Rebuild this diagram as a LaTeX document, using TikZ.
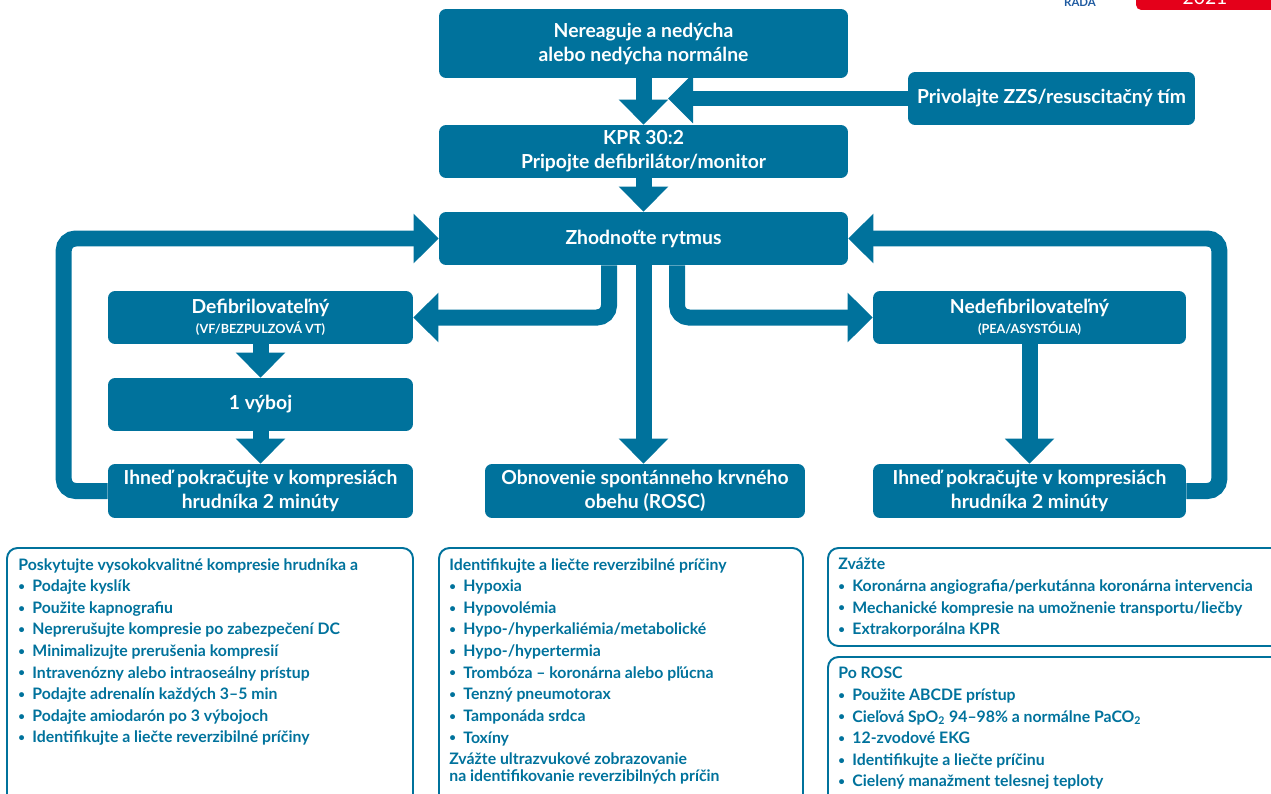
\documentclass[tikz,border=0pt]{standalone}
\usepackage{fontspec}
\setmainfont{Lato}
\usetikzlibrary{arrows.meta,calc}
\definecolor{ercblue}{RGB}{0,114,156}
\definecolor{ercred}{RGB}{228,0,26}
\definecolor{radablue}{RGB}{30,90,160}
\newcommand{\itm}{\makebox[8pt][l]{\raisebox{0.15ex}{\fontsize{6.5}{6.5}\selectfont\textbullet}}}
\newcommand{\subline}[1]{{\fontsize{7.2}{8}\selectfont #1}}

\begin{document}
\begin{tikzpicture}[x=0.02cm,y=-0.02cm,
  box/.style={fill=ercblue,text=white,rounded corners=4pt,align=center,inner sep=2pt,
    font=\bfseries\fontsize{11}{13.6}\selectfont},
  flow/.style={draw=ercblue,line width=0.32cm,rounded corners=0.24cm,
    -{Triangle[width=0.96cm,length=0.5cm]}},
  info/.style={draw=ercblue,line width=1.1pt,rounded corners=6pt},
  infotext/.style={anchor=north west,align=left,inner sep=0pt,text=ercblue,
    font=\bfseries\fontsize{9}{12.3}\selectfont}]
\useasboundingbox (0,0) rectangle (1271,794);
\clip (0,0) rectangle (1271,794);

% corner marks
\node[text=radablue,inner sep=0pt,anchor=base,font=\bfseries\fontsize{6.5}{7}\selectfont] (rada) at (1080,7) {RADA};
\fill[ercred,rounded corners=3pt] (1136,-20) rectangle (1290,10);
\node[text=white,inner sep=0pt,anchor=base,font=\fontsize{11}{11}\selectfont] (year) at (1205,5) {2021};

% main boxes
\node[box,minimum width=8.18cm,minimum height=1.38cm] (nere) at (643.5,43.5) {Nereaguje a nedýcha\\alebo nedýcha normálne};
\node[box,minimum width=5.74cm,minimum height=1.06cm] (priv) at (1051.5,98.5) {Privolajte ZZS/resuscitačný tím};
\node[box,minimum width=8.18cm,minimum height=1.06cm] (kpr) at (643.5,151.5) {KPR 30:2\\Pripojte defibrilátor/monitor};
\node[box,minimum width=8.18cm,minimum height=1.06cm] (zhod) at (643.5,238.5) {Zhodnoťte rytmus};
\node[box,minimum width=6.1cm,minimum height=1.06cm] (defib) at (260.5,317.5) {Defibrilovateľný\\[-2.5pt]\subline{(VF/BEZPULZOVÁ VT)}};
\node[box,minimum width=6.1cm,minimum height=1.06cm] (vyboj) at (260.5,404.5) {1 výboj};
\node[box,minimum width=6.1cm,minimum height=1.08cm] (ihnL) at (260.5,491) {Ihneď pokračujte v kompresiách\\hrudníka 2 minúty};
\node[box,minimum width=6.4cm,minimum height=1.08cm] (rosc) at (645,491) {Obnovenie spontánneho krvného\\obehu (ROSC)};
\node[box,minimum width=6.26cm,minimum height=1.06cm] (nedef) at (1029.5,317.5) {Nedefibrilovateľný\\[-2.5pt]\subline{(PEA/ASYSTÓLIA)}};
\node[box,minimum width=6.26cm,minimum height=1.08cm] (ihnR) at (1029.5,491) {Ihneď pokračujte v kompresiách\\hrudníka 2 minúty};

% arrows
\coordinate (meet) at (668,98.5);
\draw[flow] (nere.south) -- (kpr.north);
\draw[flow] (priv.west) -- (meet);
\draw[flow] (kpr.south) -- (zhod.north);
\draw[flow] ($(zhod.south)+(-34.5,0)$) |- (defib.east);
\draw[flow] (zhod.south) -- (zhod.south |- rosc.north);
\draw[flow] ($(zhod.south)+(33.5,0)$) |- (nedef.west);
\draw[flow] (defib.south) -- (vyboj.north);
\draw[flow] (vyboj.south) -- (ihnL.north);
\draw[flow] (nedef.south) -- (ihnR.north);
\draw[flow] (ihnL.west) -- ++(-44,0) |- (zhod.west);
\draw[flow] (ihnR.east) -- ++(33,0) |- (zhod.east);

% info boxes
\draw[info] (7,548) rectangle (413,830);
\node[infotext] (care) at (18,558) {Poskytujte vysokokvalitné kompresie hrudníka a\\
  \itm Podajte kyslík\\
  \itm Použite kapnografiu\\
  \itm Neprerušujte kompresie po zabezpečení DC\\
  \itm Minimalizujte prerušenia kompresií\\
  \itm Intravenózny alebo intraoseálny prístup\\
  \itm Podajte adrenalín každých 3–5 min\\
  \itm Podajte amiodarón po 3 výbojoch\\
  \itm Identifikujte a liečte reverzibilné príčiny};

\draw[info] (439,548) rectangle (803,830);
\node[infotext] (causes) at (449,558) {Identifikujte a liečte reverzibilné príčiny\\
  \itm Hypoxia\\
  \itm Hypovolémia\\
  \itm Hypo-/hyperkaliémia/metabolické\\
  \itm Hypo-/hypertermia\\
  \itm Trombóza – koronárna alebo pľúcna\\
  \itm Tenzný pneumotorax\\
  \itm Tamponáda srdca\\
  \itm Toxíny\\
  Zvážte ultrazvukové zobrazovanie\\[-2.6pt]
  na identifikovanie reverzibilných príčin};

\draw[info] (828,548) rectangle (1300,646);
\node[infotext] (consider) at (838,558) {Zvážte\\
  \itm Koronárna angiografia/perkutánna koronárna intervencia\\
  \itm Mechanické kompresie na umožnenie transportu/liečby\\
  \itm Extrakorporálna KPR};

\draw[info] (828,657) rectangle (1300,830);
\node[infotext] (afterrosc) at (838,667) {Po ROSC\\
  \itm Použite ABCDE prístup\\
  \itm Cieľová SpO\textsubscript{2} 94–98\% a normálne PaCO\textsubscript{2}\\
  \itm 12-zvodové EKG\\
  \itm Identifikujte a liečte príčinu\\
  \itm Cielený manažment telesnej teploty};
\end{tikzpicture}
\end{document}
